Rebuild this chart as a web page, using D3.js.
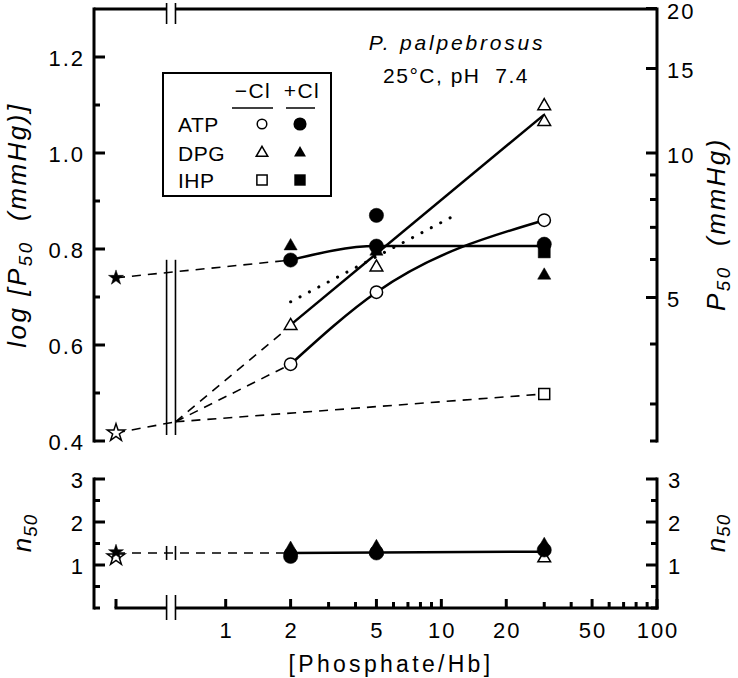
<!DOCTYPE html>
<html>
<head>
<meta charset="utf-8">
<script src="https://cdn.jsdelivr.net/npm/d3@7"></script>
<style>
  html, body { margin: 0; padding: 0; background: #fff; }
  svg { display: block; }
  text { font-family: "Liberation Sans", Arial, Helvetica, sans-serif; fill: #000; white-space: pre; }
</style>
</head>
<body>
<svg id="chart" width="738" height="678"></svg>
<script>
// ---------------- DATA ----------------
const xMajorTicks = [1, 2, 5, 10, 20, 50, 100];
const xMinorTicks = [3, 4, 6, 7, 8, 9, 30, 40, 60, 70, 80, 90];
const xTickLabels = ["1", "2", "5", "10", "20", "50", "100"];
const logP50Ticks = [0.4, 0.6, 0.8, 1.0, 1.2];
const logP50Labels = ["0.4", "0.6", "0.8", "1.0", "1.2"];
const logP50Minor = [0.5, 0.7, 0.9, 1.1];
const p50Ticks = [5, 10, 15, 20];
const p50Minor = [3, 4, 6, 7, 8, 9];
const nTicks = [1, 2, 3];
const nMinor = [0.5, 1.5, 2.5];

// positions on the x axis (in [Phosphate/Hb] units) of the "no phosphate" column and the axis break
const strippedPos = 0.31;
const breakLeft = 0.532;
const breakRight = 0.585;

// log P50 values
const atpMinusP50 = [[2, 0.56], [5, 0.71], [30, 0.86]];
const atpPlusP50 = [[2, 0.777], [5, 0.87], [5, 0.806], [30, 0.81]];
const dpgMinusP50 = [[2, 0.64], [5, 0.762], [30, 1.098], [30, 1.065]];
const dpgPlusP50 = [[2, 0.806], [5, 0.795], [30, 0.745]];
const ihpMinusP50 = [[30, 0.498]];
const ihpPlusP50 = [[30, 0.794]];
const strippedPlusP50 = 0.74;   // filled star
const strippedMinusP50 = 0.417; // open star
const convergeP50 = 0.44;

// fitted lines (log P50)
const atpMinusCurve = [[2, 0.56], [5, 0.71], [30, 0.86]];
const atpPlusCurve = [[2, 0.777], [5, 0.806], [30, 0.806]];
const dpgMinusLine = [[2, 0.642], [30, 1.08]];
const dottedLine = [[2, 0.69], [12.1, 0.875]];

// n50 values
const strippedPlusN = 1.30;
const strippedMinusN = 1.19;
const atpMinusN = [[2, 1.25], [5, 1.30]];
const atpPlusN = [[2, 1.20], [5, 1.28], [30, 1.35]];
const dpgMinusN = [[5, 1.33], [30, 1.16]];
const dpgPlusN = [[2, 1.38], [5, 1.42], [30, 1.47]];
const nLine = [[2, 1.28], [30, 1.31]];
const nDashLevel = 1.28;

// ---------------- LAYOUT ----------------
const svg = d3.select("#chart");
const L = 94, R = 657, T = 9, UB = 441, LT = 479, LB = 608;

const x = d3.scaleLog().domain([strippedPos, 100]).range([116, R]);
const yL = d3.scaleLinear().domain([0.4, 1.3]).range([UB, T]);
const yR = d3.scaleLog().domain([Math.pow(10, 0.4), Math.pow(10, 1.3)]).range([UB, T]);
const yN = d3.scaleLinear().domain([0, 3]).range([LB, LT]);

const AX = 3;        // axis stroke width
const FS = 22;       // tick font size
const LS = 2;        // tick letter spacing

function line(g, pts, attrs) {
  const p = g.append("line")
    .attr("x1", pts[0][0]).attr("y1", pts[0][1])
    .attr("x2", pts[1][0]).attr("y2", pts[1][1])
    .attr("stroke", "#000");
  for (const k in attrs) p.attr(k, attrs[k]);
  return p;
}
function tickText(g, xp, yp, anchor, s) {
  return g.append("text").attr("x", xp).attr("y", yp).attr("text-anchor", anchor)
    .attr("font-size", FS).attr("letter-spacing", LS).text(s);
}

const frame = svg.append("g");
// upper panel frame
line(frame, [[L, T], [R, T]], {"stroke-width": AX});
line(frame, [[L, T - 1.5], [L, UB + 1.5]], {"stroke-width": AX});
line(frame, [[R, T - 1.5], [R, UB + 1.5]], {"stroke-width": AX});
// lower panel frame
line(frame, [[L, LT - 1.5], [L, LB + 1.5]], {"stroke-width": AX});
line(frame, [[R, LT - 1.5], [R, LB + 1.5]], {"stroke-width": AX});
line(frame, [[x(strippedPos) - 1.5, LB], [R + 1.5, LB]], {"stroke-width": AX});

function ticksY(scale, vals, xPos, len, dir) {
  vals.forEach(v => line(frame, [[xPos, scale(v)], [xPos + dir * len, scale(v)]], {"stroke-width": AX}));
}
// upper left
ticksY(yL, logP50Ticks, L, 11, 1);
ticksY(yL, logP50Minor, L, 6, 1);
logP50Ticks.forEach((v, i) => tickText(frame, 85, yL(v) + 9, "end", logP50Labels[i]));
// upper right
ticksY(yR, p50Ticks, R, 11, -1);
ticksY(yR, p50Minor, R, 7, -1);
ticksY(yR, [yR.domain()[0]], R, 7, -1);
p50Ticks.forEach(v => tickText(frame, 667, yR(v) + 10, "start", String(v)));
// lower left / right
ticksY(yN, nTicks, L, 11, 1);
ticksY(yN, nMinor.concat([0]), L, 6, 1);
ticksY(yN, nTicks, R, 11, -1);
ticksY(yN, nMinor.concat([0]), R, 6, -1);
nTicks.forEach(v => {
  tickText(frame, 85, yN(v) + 9, "end", String(v));
  tickText(frame, 668, yN(v) + 9, "start", String(v));
});
// x axis ticks
xMajorTicks.concat([strippedPos]).forEach(v => line(frame, [[x(v), LB], [x(v), LB - 9]], {"stroke-width": AX}));
xMinorTicks.forEach(v => line(frame, [[x(v), LB], [x(v), LB - 6]], {"stroke-width": AX}));
xMajorTicks.forEach((v, i) => tickText(frame, x(v) + 1, 638, "middle", xTickLabels[i]));

// axis breaks
function breakBars(y1, y2, gapY) {
  if (gapY !== undefined) {
    svg.append("rect").attr("x", x(breakLeft)).attr("y", gapY - 3)
      .attr("width", x(breakRight) - x(breakLeft)).attr("height", 6).attr("fill", "#fff");
  }
  [breakLeft, breakRight].forEach(b =>
    line(svg, [[x(b), y1], [x(b), y2]], {"stroke-width": 1.6}));
}
breakBars(T - 6, T + 15, T);
breakBars(LB - 13, LB + 12, LB);
breakBars(yL(0.74) - 18, yL(0.4) - 6);

// ---------------- LINES ----------------
const P = (d) => [x(d[0]), yL(d[1])];
const PN = (d) => [x(d[0]), yN(d[1])];
const lines = svg.append("g").attr("fill", "none").attr("stroke", "#000");

const dash = "9,7";
function path(pts, curve, width, dasharray, proj) {
  const gen = d3.line().x(d => proj(d)[0]).y(d => proj(d)[1]).curve(curve || d3.curveLinear);
  const p = lines.append("path").attr("d", gen(pts)).attr("stroke-width", width);
  if (dasharray) p.attr("stroke-dasharray", dasharray);
  return p;
}
// dashed extrapolations (upper)
path([[strippedPos, strippedPlusP50], [2, 0.777]], null, 1.6, dash, P);
path([[strippedPos, strippedMinusP50], [breakRight, convergeP50]], null, 1.6, dash, P);
path([[breakRight, convergeP50], [2, 0.56]], null, 1.6, dash, P);
path([[breakRight, convergeP50], [2, 0.64]], null, 1.6, dash, P);
path([[breakRight, convergeP50], [30, 0.498]], null, 1.6, dash, P);
// solid fits
path(atpMinusCurve, d3.curveMonotoneX, 2.5, null, P);
path(atpPlusCurve, d3.curveMonotoneX, 2.5, null, P);
path(dpgMinusLine, null, 2.5, null, P);
path(dottedLine, null, 3, "0.1,10.5", P).attr("stroke-linecap", "round");
// lower panel lines
path([[strippedPos, nDashLevel], [2, nDashLevel]], null, 1.6, dash, PN);
path(nLine, null, 2.5, null, PN);
[breakLeft, breakRight].forEach(b => line(svg, [[x(b), yN(nDashLevel) - 7], [x(b), yN(nDashLevel) + 7]], {"stroke-width": 1.6}));

// ---------------- MARKERS ----------------
const marks = svg.append("g");
const sym = {
  circle: d3.symbol().type(d3.symbolCircle),
  triangle: d3.symbol().type(d3.symbolTriangle),
  square: d3.symbol().type(d3.symbolSquare),
  star: d3.symbol().type(d3.symbolStar)
};
function draw(data, proj, type, size, filled) {
  data.forEach(d => {
    const [px, py] = proj(d);
    marks.append("path").attr("d", sym[type].size(size)())
      .attr("transform", `translate(${px},${py})`)
      .attr("fill", filled ? "#000" : "#fff")
      .attr("stroke", "#000").attr("stroke-width", filled ? 0.5 : 1.5);
  });
}
// upper
draw(dpgPlusP50, P, "triangle", 75, true);
draw(ihpPlusP50, P, "square", 145, true);
draw(atpPlusP50, P, "circle", 160, true);
draw(atpMinusP50, P, "circle", 120, false);
draw(dpgMinusP50, P, "triangle", 70, false);
draw(ihpMinusP50, P, "square", 120, false);
draw([[strippedPos, strippedPlusP50]], P, "star", 70, true);
draw([[strippedPos, strippedMinusP50]], P, "star", 95, false);
// lower
draw(atpMinusN, PN, "circle", 120, false);
draw(dpgMinusN, PN, "triangle", 70, false);
draw(dpgPlusN, PN, "triangle", 75, true);
draw(atpPlusN, PN, "circle", 160, true);
draw([[strippedPos, strippedMinusN]], PN, "star", 95, false);
draw([[strippedPos, strippedPlusN]], PN, "star", 70, true);

// ---------------- TEXT ----------------
svg.append("text").attr("x", 457).attr("y", 50).attr("text-anchor", "middle")
  .attr("font-size", 21).attr("font-style", "italic").attr("letter-spacing", 2.8).text("P. palpebrosus");
svg.append("text").attr("x", 456).attr("y", 83).attr("text-anchor", "middle")
  .attr("font-size", 21).attr("letter-spacing", 1.5).text("25°C, pH  7.4");

// legend
const lg = svg.append("g");
lg.append("rect").attr("x", 163).attr("y", 73).attr("width", 168).attr("height", 123)
  .attr("fill", "#fff").attr("stroke", "#000").attr("stroke-width", 2);
lg.append("text").attr("x", 253).attr("y", 98).attr("text-anchor", "middle").attr("font-size", 21).attr("letter-spacing", 1.5).text("\u2212Cl");
lg.append("text").attr("x", 302).attr("y", 98).attr("text-anchor", "middle").attr("font-size", 21).attr("letter-spacing", 1.5).text("+Cl");
line(lg, [[232, 108], [273, 108]], {"stroke-width": 1.5});
line(lg, [[286, 108], [315, 108]], {"stroke-width": 1.5});
const legendRows = ["ATP", "DPG", "IHP"];
const legendTypes = ["circle", "triangle", "square"];
const rowY = [124, 153, 180];
legendRows.forEach((r, i) => {
  lg.append("text").attr("x", 178).attr("y", rowY[i] + 8).attr("font-size", 21).attr("letter-spacing", 0.5).text(r);
  const s = legendTypes[i];
  const szO = s === "circle" ? 72 : s === "triangle" ? 58 : 105;
  const szF = s === "circle" ? 135 : s === "triangle" ? 62 : 130;
  lg.append("path").attr("d", sym[s].size(szO)()).attr("transform", `translate(262,${rowY[i]})`)
    .attr("fill", "#fff").attr("stroke", "#000").attr("stroke-width", 1.5);
  lg.append("path").attr("d", sym[s].size(szF)()).attr("transform", `translate(300,${rowY[i]})`)
    .attr("fill", "#000");
});

// axis titles
function rotLabel(xp, yp, parts, fs, ls, sh) {
  const t = svg.append("text").attr("transform", `translate(${xp},${yp}) rotate(-90)`)
    .attr("text-anchor", "middle").attr("font-size", fs).attr("font-style", "italic")
    .attr("letter-spacing", ls);
  parts.forEach(p => {
    const ts = t.append("tspan").text(p.t);
    if (p.sub) ts.attr("font-size", fs * 0.72).attr("dy", sh);
    if (p.back) ts.attr("dy", -sh);
  });
  return t;
}
rotLabel(26, 225, [{t: "log [P"}, {t: "50", sub: true}, {t: "  (mmHg)]", back: true}], 26, 2.5, 6);
rotLabel(725, 224, [{t: "P"}, {t: "50", sub: true}, {t: "  (mmHg)", back: true}], 26, 2.5, 5);
rotLabel(31, 533, [{t: "n"}, {t: "50", sub: true}], 26, 1, 6);
rotLabel(725, 533, [{t: "n"}, {t: "50", sub: true}], 26, 1, 5);

svg.append("text").attr("x", 391).attr("y", 672).attr("text-anchor", "middle")
  .attr("font-size", 23).attr("letter-spacing", 3.3).text("[Phosphate/Hb]");
</script>
</body>
</html>
